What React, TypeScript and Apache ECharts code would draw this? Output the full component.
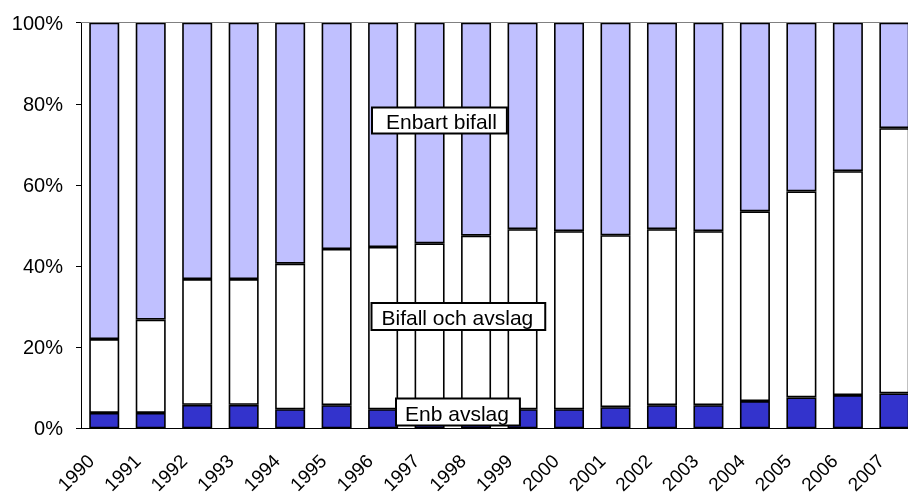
import React, { useEffect, useRef } from "react";
import * as echarts from "echarts";

const years = ["1990","1991","1992","1993","1994","1995","1996","1997","1998","1999","2000","2001","2002","2003","2004","2005","2006","2007"];
// Share of decisions, percent
const enbAvslag = [3.8, 3.8, 5.8, 5.8, 4.7, 5.7, 4.7, 1.0, 1.0, 4.7, 4.7, 5.2, 5.7, 5.7, 6.7, 7.6, 8.2, 8.6];
const bifallOchAvslag = [18.2, 23.0, 31.0, 31.0, 35.9, 38.5, 40.0, 44.6, 46.5, 44.4, 43.9, 42.4, 43.4, 42.9, 46.8, 50.8, 55.2, 65.4];
const enbartBifall = [78.0, 73.2, 63.2, 63.2, 59.4, 55.8, 55.3, 54.4, 52.5, 50.9, 51.4, 52.4, 50.9, 51.4, 46.5, 41.6, 36.6, 26.0];
const yTicks = ["0%", "20%", "40%", "60%", "80%", "100%"];
const seriesNames = ["Enb avslag", "Bifall och avslag", "Enbart bifall"];

const FONT = '"Liberation Sans", Arial, sans-serif';

export default function App() {
  const ref = useRef<HTMLDivElement>(null);
  useEffect(() => {
    if (!ref.current) return;
    const chart = echarts.init(ref.current, null, { renderer: "svg" });
    const barStyle = (color: string) => ({ color, borderColor: "#000", borderWidth: 1.6 });
    const boxStyle = (text: string, padding: number[]) => ({
      text,
      font: `21px ${FONT}`,
      fill: "#000",
      backgroundColor: "#fff",
      borderColor: "#000",
      borderWidth: 2,
      padding,
      align: "left",
      verticalAlign: "top",
    });
    chart.setOption({
      animation: false,
      textStyle: { fontFamily: FONT },
      grid: {
        left: 81,
        top: 22.7,
        bottom: 66.7,
        right: -9.6,
        containLabel: false,
        outerBoundsMode: "none",
      },
      xAxis: {
        type: "category",
        data: years,
        axisLine: { show: true, lineStyle: { color: "#000", width: 1 } },
        axisTick: { show: false },
        axisLabel: {
          rotate: 45,
          fontSize: 19,
          color: "#000",
          margin: 16,
          interval: 0,
          fontFamily: FONT,
          padding: [0, 19, 0, 0],
        },
      },
      yAxis: {
        type: "value",
        min: 0,
        max: 100,
        interval: 20,
        axisLine: { show: true, lineStyle: { color: "#000", width: 1 } },
        axisTick: { show: true, length: 5, lineStyle: { color: "#000" } },
        splitLine: { show: false },
        axisLabel: {
          fontSize: 20,
          color: "#000",
          margin: 18,
          fontFamily: FONT,
          formatter: (v: number) => yTicks[Math.round(v / 20)],
        },
      },
      series: [
        {
          name: seriesNames[0],
          type: "bar",
          stack: "total",
          barWidth: 30,
          data: enbAvslag,
          itemStyle: barStyle("#3333CC"),
        },
        {
          name: seriesNames[1],
          type: "bar",
          stack: "total",
          barWidth: 30,
          data: bifallOchAvslag,
          itemStyle: barStyle("#FFFFFF"),
        },
        {
          name: seriesNames[2],
          type: "bar",
          stack: "total",
          barWidth: 30,
          data: enbartBifall,
          itemStyle: barStyle("#C0C0FF"),
          markLine: {
            silent: true,
            symbol: "none",
            label: { show: false },
            lineStyle: { color: "#808080", type: "solid", width: 1 },
            data: [{ yAxis: 100 }],
          },
        },
      ],
      graphic: [
        { type: "text", x: 373, y: 108.5, z: 100, style: boxStyle(seriesNames[2], [2, 9, 1, 13]) },
        { type: "text", x: 372.5, y: 304, z: 100, style: boxStyle(seriesNames[1], [3, 11, 1, 9]) },
        { type: "text", x: 397, y: 399.5, z: 100, style: boxStyle(seriesNames[0], [3, 10, 1, 8]) },
      ],
    });
    return () => chart.dispose();
  }, []);
  return <div ref={ref} style={{ position: "fixed", left: 0, top: 0, width: 908, height: 495 }} />;
}
